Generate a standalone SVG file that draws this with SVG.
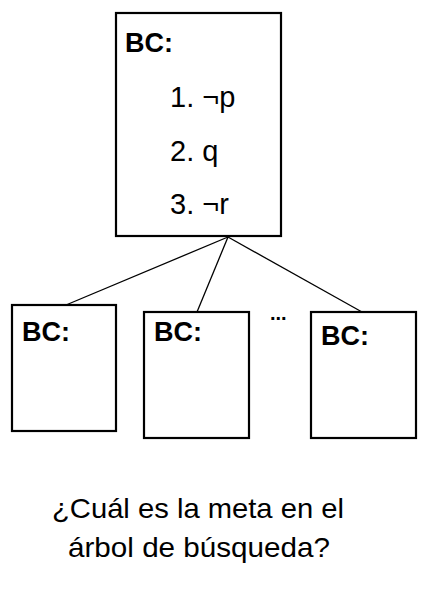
<svg xmlns="http://www.w3.org/2000/svg" width="429" height="611" viewBox="0 0 429 611">
<style>
.box{fill:#fff;stroke:#000;stroke-width:2.2}
.lbl{font-family:"Liberation Sans",Arial,sans-serif;font-weight:bold;font-size:27px;fill:#000}
.item{font-family:"Liberation Sans",Arial,sans-serif;font-size:29px;fill:#000}
.q{font-family:"Liberation Sans",Arial,sans-serif;font-size:28px;fill:#000}
.edge{stroke:#000;stroke-width:1.3;fill:none}
</style>
<rect width="429" height="611" fill="#fff"/>
<g id="connectors">
<line class="edge" x1="228" y1="237" x2="66" y2="305"/>
<line class="edge" x1="228" y1="237" x2="197" y2="312"/>
<line class="edge" x1="228" y1="237" x2="362" y2="312"/>
</g>
<g id="root">
<rect class="box" x="116" y="13" width="165" height="223"/>
<text class="lbl" x="125" y="52">BC:</text>
<text class="item" x="170" y="107">1. ¬p</text>
<text class="item" x="170" y="161">2. q</text>
<text class="item" x="170" y="214">3. ¬r</text>
</g>
<g id="child1">
<rect class="box" x="12" y="305" width="104" height="126"/>
<text class="lbl" x="22" y="341">BC:</text>
</g>
<g id="child2">
<rect class="box" x="144" y="312" width="105" height="126"/>
<text class="lbl" x="154" y="341">BC:</text>
</g>
<g id="dots">
<text class="lbl" x="270" y="320" style="font-size:20px">...</text>
</g>
<g id="child3">
<rect class="box" x="311" y="312" width="105" height="126"/>
<text class="lbl" x="321" y="345">BC:</text>
</g>
<g id="question">
<text class="q" x="52" y="518" textLength="292" lengthAdjust="spacingAndGlyphs">¿Cuál es la meta en el</text>
<text class="q" x="68" y="557" textLength="262" lengthAdjust="spacingAndGlyphs">árbol de búsqueda?</text>
</g>
</svg>
